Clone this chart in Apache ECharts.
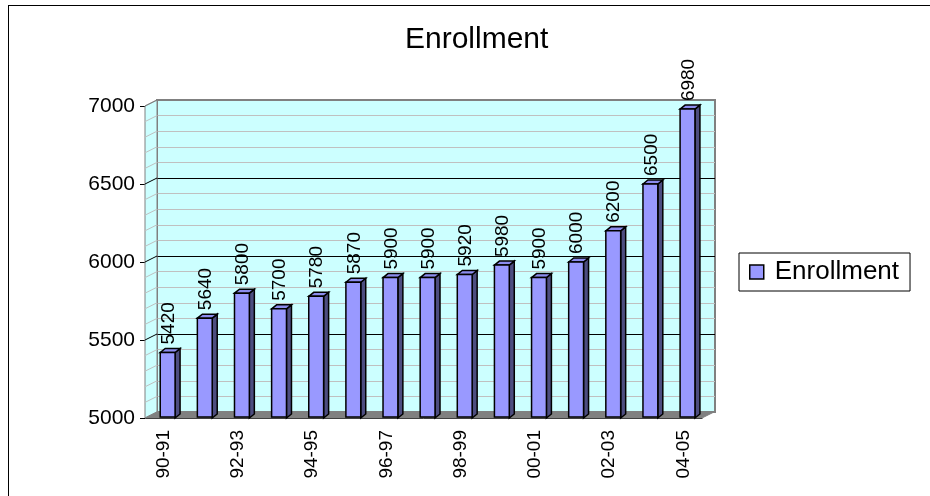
<!DOCTYPE html>
<html>
<head>
<meta charset="utf-8">
<script src="https://cdn.jsdelivr.net/npm/echarts@6/dist/echarts.min.js"></script>
<style>
    html, body { margin: 0; padding: 0; background: #fff; overflow: hidden; }
    #frame { position: absolute; left: 8px; top: 5px; width: 940px; height: 500px; border: 1px solid #000; }
    #chart { position: absolute; left: 0; top: 0; width: 930px; height: 496px; }
</style>
</head>
<body>
<div id="frame"></div>
<div id="chart"></div>
<script>
const categories = ['90-91', '91-92', '92-93', '93-94', '94-95', '95-96', '96-97', '97-98',
    '98-99', '99-00', '00-01', '01-02', '02-03', '03-04', '04-05'];
const enrollment = [5420, 5640, 5800, 5700, 5780, 5870, 5900, 5900, 5920, 5980, 5900, 6000, 6200, 6500, 6980];
const yMin = 5000;
const yMax = 7000;
const yStep = 500;
const yMinorStep = 100;

// depth of the 3D box and of each bar (pixels)
const WALL_DX = 12, WALL_DY = -6;
const BAR_DX = 5, BAR_DY = -4;
const FONT = '"Liberation Sans", Arial, sans-serif';

const myChart = echarts.init(document.getElementById('chart'));

// side wall, floor and the slanted grid lines on the side wall
function renderWalls(params, api) {
    const band = api.size([1, 0])[0];
    const left = api.coord([0, yMin])[0] - band / 2;
    const right = api.coord([categories.length - 1, yMin])[0] + band / 2;
    const yb = api.coord([0, yMin])[1];
    const yt = api.coord([0, yMax])[1];
    const children = [
        {
            type: 'polygon',
            shape: { points: [[left, yb], [left, yt], [left + WALL_DX, yt + WALL_DY], [left + WALL_DX, yb + WALL_DY]] },
            style: { fill: '#ccffff', stroke: '#808080', lineWidth: 1 }
        },
        {
            type: 'polygon',
            shape: { points: [[left, yb], [right, yb], [right + WALL_DX, yb + WALL_DY], [left + WALL_DX, yb + WALL_DY]] },
            style: { fill: '#808080', stroke: '#808080', lineWidth: 1 }
        }
    ];
    for (let v = yMin + yMinorStep; v <= yMax; v += yMinorStep) {
        const y = api.coord([0, v])[1];
        const major = v % yStep === 0 && v !== yMax;
        children.push({
            type: 'line',
            shape: { x1: left, y1: y, x2: left + WALL_DX, y2: y + WALL_DY },
            style: { stroke: major ? '#000' : (v === yMax ? '#808080' : '#c0c0c0'), lineWidth: 1 }
        });
    }
    return { type: 'group', children: children };
}

function renderBar(params, api) {
    const i = api.value(0);
    const v = api.value(1);
    const top = api.coord([i, v]);
    const base = api.coord([i, yMin]);
    const band = api.size([1, 0])[0];
    const w = band * 0.4;
    const x0 = top[0] - w / 2 + band * 0.11;
    const x1 = x0 + w;
    const stroke = { stroke: '#000', lineWidth: 1.5 };
    return {
        type: 'group',
        children: [
            {
                type: 'polygon',
                shape: { points: [[x1, top[1]], [x1 + BAR_DX, top[1] + BAR_DY], [x1 + BAR_DX, base[1] + BAR_DY], [x1, base[1]]] },
                style: Object.assign({ fill: '#4d4d80' }, stroke)
            },
            {
                type: 'polygon',
                shape: { points: [[x0, top[1]], [x0 + BAR_DX, top[1] + BAR_DY], [x1 + BAR_DX, top[1] + BAR_DY], [x1, top[1]]] },
                style: Object.assign({ fill: '#8c8cee' }, stroke)
            },
            {
                type: 'rect',
                shape: { x: x0, y: top[1], width: w, height: base[1] - top[1] - 1 },
                style: Object.assign({ fill: '#9999ff' }, stroke)
            },
            {
                type: 'text',
                x: x0 + w / 2 + 1,
                y: top[1] + BAR_DY - 4,
                rotation: Math.PI / 2,
                style: {
                    text: String(v),
                    align: 'left',
                    verticalAlign: 'middle',
                    font: '19px ' + FONT,
                    fill: '#000'
                }
            }
        ]
    };
}

myChart.setOption({
    animation: false,
    textStyle: { fontFamily: FONT },
    title: {
        text: 'Enrollment',
        left: 400,
        top: 20,
        textStyle: { fontSize: 30, fontWeight: 'normal', color: '#000', fontFamily: FONT }
    },
    legend: {
        data: [{ name: 'Enrollment', icon: 'rect' }],
        left: 739,
        top: 253,
        padding: [6, 11, 6, 10],
        itemWidth: 14,
        itemHeight: 14,
        borderColor: '#000',
        borderWidth: 1,
        itemStyle: { color: '#9999ff', borderColor: '#000', borderWidth: 1.5 },
        textStyle: { fontSize: 26, color: '#000', fontFamily: FONT, padding: [0, 0, 0, 6] }
    },
    grid: [
        // front plane: axes and labels
        { left: 145, top: 106, right: 228, bottom: 78 },
        // back wall
        {
            left: 157, top: 100, right: 215, bottom: 84,
            show: true, backgroundColor: '#ccffff', borderColor: '#808080', borderWidth: 2
        }
    ],
    xAxis: [
        {
            gridIndex: 0,
            type: 'category',
            data: categories,
            axisLine: { lineStyle: { color: '#000', width: 1 } },
            axisTick: { interval: 0, length: 6, lineStyle: { color: '#000' } },
            axisLabel: { interval: 1, rotate: 90, fontSize: 19, color: '#000', margin: 12 },
            splitLine: { show: false }
        },
        {
            gridIndex: 1,
            type: 'category',
            data: categories,
            axisLine: { show: false },
            axisTick: { show: false },
            axisLabel: { show: false },
            splitLine: { show: false }
        }
    ],
    yAxis: [
        {
            gridIndex: 0,
            type: 'value',
            min: yMin,
            max: yMax,
            interval: yStep,
            axisLine: { show: true, lineStyle: { color: '#808080', width: 1 } },
            axisTick: { show: true, length: 5, lineStyle: { color: '#000' } },
            axisLabel: { fontSize: 21, color: '#000', margin: 10, formatter: v => String(v) },
            splitLine: { show: false }
        },
        {
            gridIndex: 1,
            type: 'value',
            min: yMin,
            max: yMax,
            interval: yStep,
            axisLine: { show: false },
            axisTick: { show: false },
            axisLabel: { show: false },
            minorTick: { show: false, splitNumber: yStep / yMinorStep },
            splitLine: { show: true, showMinLine: false, showMaxLine: false, lineStyle: { color: '#000', width: 1 } },
            minorSplitLine: { show: true, lineStyle: { color: '#c0c0c0', width: 1 } }
        }
    ],
    series: [
        {
            name: 'walls',
            type: 'custom',
            xAxisIndex: 0,
            yAxisIndex: 0,
            clip: false,
            silent: true,
            z: 1,
            renderItem: renderWalls,
            data: [[0, yMin]]
        },
        {
            name: 'Enrollment',
            type: 'custom',
            xAxisIndex: 0,
            yAxisIndex: 0,
            clip: false,
            z: 3,
            itemStyle: { color: '#9999ff', borderColor: '#000' },
            renderItem: renderBar,
            data: enrollment.map((v, i) => [i, v])
        }
    ]
});
</script>
</body>
</html>
